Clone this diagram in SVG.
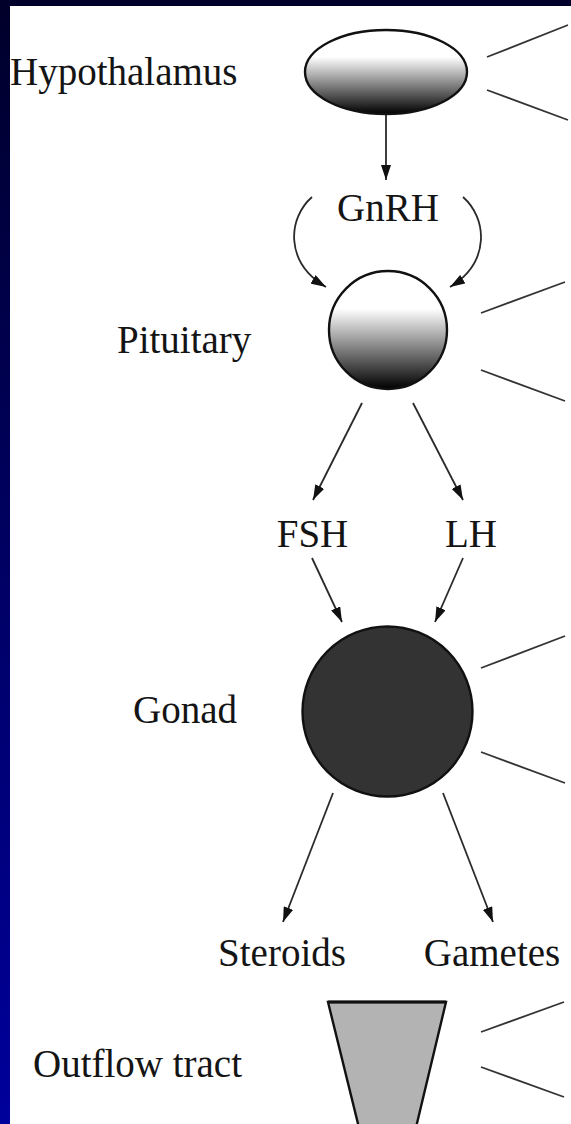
<svg xmlns="http://www.w3.org/2000/svg" width="571" height="1124" viewBox="0 0 571 1124">
  <style>
    .lbl { font-family: "Liberation Serif", "Times New Roman", serif; font-size: 39px; fill: #141414; }
    .mid { text-anchor: middle; }
    .organ { stroke: #111; stroke-width: 2.4; }
    .ray { stroke: #333; stroke-width: 1.8; fill: none; }
    .flow { stroke: #2a2a2a; stroke-width: 1.8; fill: none; marker-end: url(#head); }
  </style>
  <defs>
    <linearGradient id="frame" x1="0" y1="0" x2="0" y2="1">
      <stop offset="0" stop-color="#00002a"/>
      <stop offset="1" stop-color="#00009c"/>
    </linearGradient>
    <linearGradient id="shade" x1="0" y1="0" x2="0" y2="1">
      <stop offset="0" stop-color="#ffffff"/>
      <stop offset="0.32" stop-color="#ffffff"/>
      <stop offset="1" stop-color="#000000"/>
    </linearGradient>
    <marker id="head" viewBox="0 0 15 10" markerUnits="userSpaceOnUse" markerWidth="15" markerHeight="10" refX="15" refY="5" orient="auto">
      <path d="M0,0 L15,5 L0,10 z" fill="#111"/>
    </marker>
  </defs>

  <!-- frame and page -->
  <rect x="0" y="0" width="571" height="1124" fill="url(#frame)"/>
  <rect x="10" y="6" width="561" height="1118" fill="#ffffff"/>

  <g id="hypothalamus">
    <ellipse class="organ" cx="386" cy="72" rx="81" ry="42" fill="url(#shade)"/>
    <text class="lbl" x="10" y="85">Hypothalamus</text>
    <line class="ray" x1="487" y1="57" x2="568" y2="25"/>
    <line class="ray" x1="487" y1="90" x2="568" y2="120"/>
  </g>

  <g id="gnrh">
    <text class="lbl mid" x="388" y="221">GnRH</text>
  </g>

  <g id="pituitary">
    <circle class="organ" cx="388" cy="330" r="59" fill="url(#shade)"/>
    <text class="lbl" x="117" y="353">Pituitary</text>
    <line class="ray" x1="481" y1="313" x2="565" y2="282"/>
    <line class="ray" x1="481" y1="370" x2="565" y2="401"/>
  </g>

  <g id="fsh">
    <text class="lbl mid" x="312.5" y="547">FSH</text>
  </g>
  <g id="lh">
    <text class="lbl mid" x="471" y="547">LH</text>
  </g>

  <g id="gonad">
    <circle class="organ" cx="387.5" cy="711.5" r="85" fill="#333333"/>
    <text class="lbl" x="133" y="723">Gonad</text>
    <line class="ray" x1="481" y1="668" x2="565" y2="636"/>
    <line class="ray" x1="481" y1="752" x2="565" y2="783"/>
  </g>

  <g id="steroids">
    <text class="lbl mid" x="282" y="966">Steroids</text>
  </g>
  <g id="gametes">
    <text class="lbl mid" x="492" y="966">Gametes</text>
  </g>

  <g id="outflow-tract">
    <polygon class="organ" points="328,1002 446,1002 413,1140 362,1140" fill="#b3b3b3"/>
    <line x1="328" y1="1002" x2="446" y2="1002" stroke="#111" stroke-width="3.2"/>
    <text class="lbl" x="33" y="1077">Outflow tract</text>
    <line class="ray" x1="481" y1="1032" x2="564" y2="1002"/>
    <line class="ray" x1="481" y1="1067" x2="564" y2="1097"/>
  </g>

  <g id="connectors">
    <line class="flow" x1="386" y1="115" x2="386" y2="180"/>
    <path class="flow" d="M312,197 C288,218 284,262 326,287"/>
    <path class="flow" d="M463,197 C487,218 491,262 450,287"/>
    <line class="flow" x1="362" y1="403" x2="313" y2="500"/>
    <line class="flow" x1="413" y1="403" x2="463" y2="500"/>
    <line class="flow" x1="312" y1="558" x2="342" y2="622"/>
    <line class="flow" x1="463" y1="558" x2="435" y2="622"/>
    <line class="flow" x1="333" y1="793" x2="283" y2="922"/>
    <line class="flow" x1="443" y1="793" x2="493" y2="922"/>
  </g>
</svg>
